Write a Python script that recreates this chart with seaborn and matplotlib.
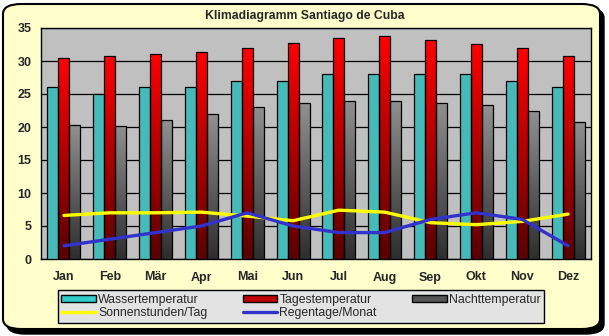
import numpy as np
import pandas as pd
import matplotlib
matplotlib.use("Agg")
import matplotlib.pyplot as plt
import seaborn as sns
from matplotlib.patches import FancyBboxPatch, Patch
from matplotlib.lines import Line2D
from matplotlib.ticker import MultipleLocator
from matplotlib.colors import LinearSegmentedColormap

months = ["Jan", "Feb", "Mär", "Apr", "Mai", "Jun", "Jul", "Aug", "Sep", "Okt", "Nov", "Dez"]
wasser = [26, 25, 26, 26, 27, 27, 28, 28, 28, 28, 27, 26]
tages = [30.5, 30.7, 31.1, 31.4, 31.9, 32.8, 33.5, 33.8, 33.2, 32.6, 32.0, 30.8]
nacht = [20.3, 20.2, 21.0, 21.9, 23.1, 23.6, 24.0, 24.0, 23.6, 23.3, 22.4, 20.8]
sonne = [6.6, 7.0, 7.0, 7.1, 6.5, 5.8, 7.4, 7.1, 5.5, 5.2, 5.7, 6.8]
regen = [2, 3, 4, 5, 7, 5, 4, 4, 6, 7, 6, 2]

labels = ["Wassertemperatur", "Tagestemperatur", "Nachttemperatur"]
df = pd.DataFrame({
    "Monat": months * 3,
    "Wert": wasser + tages + nacht,
    "Reihe": [labels[0]] * 12 + [labels[1]] * 12 + [labels[2]] * 12,
})

sns.set_style("white")
plt.rcParams["font.family"] = ["Liberation Sans", "DejaVu Sans"]

fig = plt.figure(figsize=(6.09, 3.36), dpi=100, facecolor="white")
shadow = FancyBboxPatch((7 / 609, 1 - 334 / 336), 597 / 609, 326 / 336,
                        boxstyle="round,pad=0,rounding_size=0.03", transform=fig.transFigure,
                        facecolor="black", edgecolor="black", zorder=0)
frame = FancyBboxPatch((3 / 609, 1 - 329 / 336), 597 / 609, 325 / 336,
                       boxstyle="round,pad=0,rounding_size=0.03", transform=fig.transFigure,
                       facecolor="#FFFFCC", edgecolor="black", linewidth=1.5, zorder=1)
fig.patches.extend([shadow, frame])

ax = fig.add_axes([41 / 609, 1 - 259 / 336, 550 / 609, 231 / 336])
ax.set_facecolor("#C0C0C0")
ax.set_zorder(2)

colors = {labels[0]: "#33CCCC", labels[1]: "#FF0000", labels[2]: "#707070"}
sns.barplot(data=df, x="Monat", y="Wert", hue="Reihe", palette=colors, width=0.72,
            gap=0, ax=ax, legend=False, edgecolor="black", linewidth=0.9, zorder=3)

grads = {
    1: ["#FF0000", "#5A0000"],
    2: ["#909090", "#2E2E2E"],
}
for i, cont in enumerate(ax.containers):
    if i not in grads:
        continue
    cmap = LinearSegmentedColormap.from_list("g%d" % i, grads[i][::-1])
    for p in cont.patches:
        x0, y0 = p.get_x(), p.get_y()
        w, h = p.get_width(), p.get_height()
        p.set_facecolor("none")
        grad = np.linspace(1, 0, 100).reshape(-1, 1)
        im = ax.imshow(grad, extent=(x0, x0 + w, y0, y0 + h), aspect="auto",
                       cmap=cmap, vmin=0, vmax=1, zorder=2.9, origin="upper")
        im.set_clip_path(p)

sns.lineplot(x=months, y=sonne, color="#FFFF00", linewidth=2.4, sort=False, ax=ax, zorder=5)
sns.lineplot(x=months, y=regen, color="#3333CC", linewidth=2.4, sort=False, ax=ax, zorder=5)
ax.set_ylim(0, 35)
ax.set_xlim(-0.5, 11.5)

ax.yaxis.set_major_locator(MultipleLocator(5))
ax.yaxis.set_minor_locator(MultipleLocator(1))
ax.grid(axis="y", which="major", color="black", linewidth=0.9, zorder=1)
ax.set_axisbelow(True)
ax.set_xticks(range(12))
ax.set_xticklabels(months, fontweight="bold", fontsize=9)
ax.set_xticks(np.arange(-0.5, 12, 1), minor=True)
ax.tick_params(axis="x", which="major", length=0, pad=9)
ax.tick_params(axis="x", which="minor", length=5, width=1, direction="out", color="black")
ax.tick_params(axis="y", which="major", length=5, width=1, direction="out", color="black", labelsize=9, pad=2)
ax.tick_params(axis="y", which="minor", length=3, width=0.8, direction="out", color="black")
for t in ax.get_yticklabels():
    t.set_fontweight("bold")
ax.set_xlabel("")
ax.set_ylabel("")
for s in ax.spines.values():
    s.set_color("black")
    s.set_linewidth(1)

fig.text(0.5, 1 - 16 / 336, "Klimadiagramm Santiago de Cuba", ha="center", va="center",
         fontsize=8.8, fontweight="bold")

handles = [
    Patch(facecolor="#33CCCC", edgecolor="black", label=labels[0]),
    Line2D([], [], color="#FFFF00", linewidth=2.4, label="Sonnenstunden/Tag"),
    Patch(facecolor="#C00000", edgecolor="black", label=labels[1]),
    Line2D([], [], color="#3333CC", linewidth=2.4, label="Regentage/Monat"),
    Patch(facecolor="#555555", edgecolor="black", label=labels[2]),
]
leg = fig.legend(handles=handles, ncol=3, loc="center", bbox_to_anchor=(301 / 609, 1 - 306.5 / 336),
                 fontsize=8.8, frameon=True, fancybox=False, handlelength=2.8, handleheight=0.5,
                 handletextpad=0.2, columnspacing=2.9, labelspacing=0.1, borderpad=0.3,
                 borderaxespad=0)
leg.get_frame().set_facecolor("#E3E3E3")
leg.get_frame().set_edgecolor("black")
leg.get_frame().set_linewidth(1)
leg.get_frame().set_alpha(1)
leg.set_zorder(10)

fig.savefig("out.png", dpi=100, facecolor="white")
